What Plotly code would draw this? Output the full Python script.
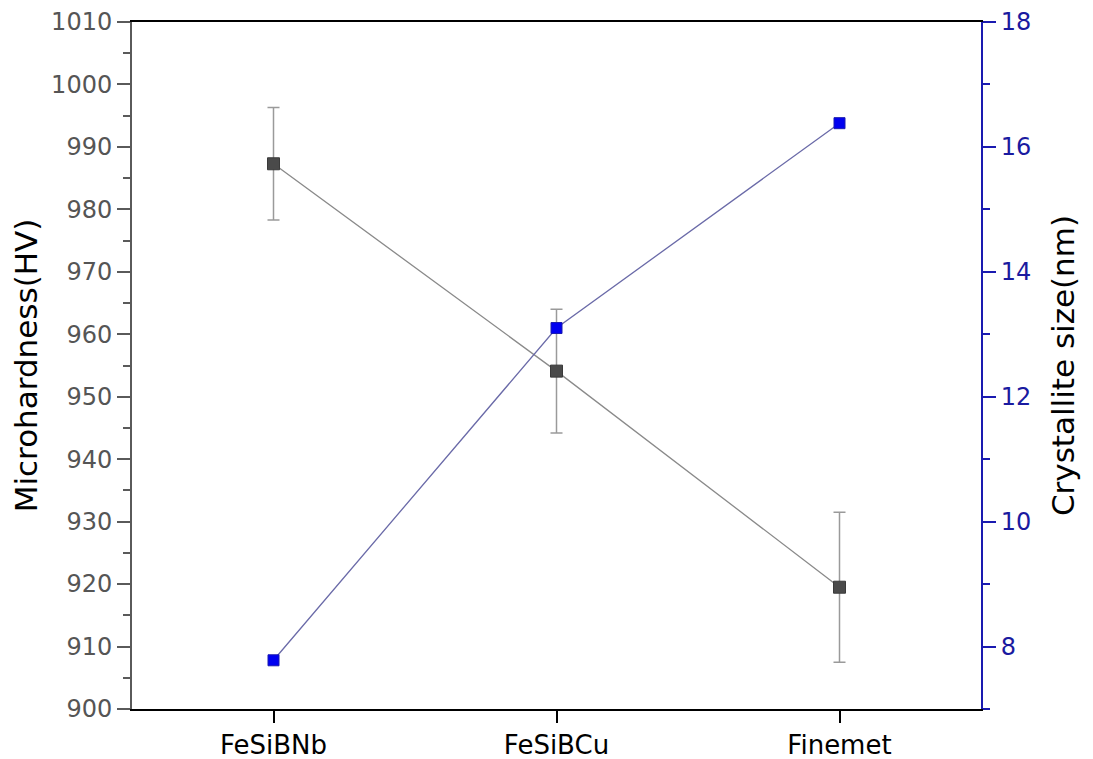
import plotly.graph_objects as go

categories = ["FeSiBNb", "FeSiBCu", "Finemet"]
microhardness = [987.3, 954.1, 919.5]
microhardness_err = [9.0, 9.9, 12.0]
crystallite = [7.78, 13.1, 16.38]

FONT = "DejaVu Sans, Liberation Sans, Arial"

fig = go.Figure()
fig.add_trace(go.Scatter(
    x=categories, y=microhardness, mode="lines+markers",
    line=dict(color="#8a8a8a", width=1.3),
    marker=dict(symbol="square", size=12, color="#4a4a4a", line=dict(color="#3a3a3a", width=1)),
    error_y=dict(type="data", array=microhardness_err, color="#9a9a9a", thickness=1.5, width=6),
    yaxis="y", showlegend=False))
fig.add_trace(go.Scatter(
    x=categories, y=crystallite, mode="lines+markers",
    line=dict(color="#6a6aa8", width=1.3),
    marker=dict(symbol="square", size=11, color="#0000f0", line=dict(color="#1a1ab0", width=1)),
    yaxis="y2", showlegend=False))

fig.update_layout(
    width=1093, height=759,
    margin=dict(l=132, r=112, t=22, b=50),
    paper_bgcolor="white", plot_bgcolor="white",
    font=dict(family=FONT, size=24),
    xaxis=dict(
        type="category", range=[-0.5, 2.5], automargin=False,
        showline=True, linecolor="black", linewidth=2, mirror=True,
        ticks="outside", ticklen=12, tickwidth=2, tickcolor="black",
        tickfont=dict(color="black", size=26, family=FONT), showgrid=False, zeroline=False),
    yaxis=dict(
        range=[900, 1010], dtick=10, tickmode="linear", tick0=900, automargin=False,
        showline=True, linecolor="#5a5a5a", linewidth=2,
        ticks="outside", ticklen=13, tickwidth=2, tickcolor="#5a5a5a",
        minor=dict(dtick=5, ticks="outside", ticklen=7, tickcolor="#5a5a5a", tickwidth=2),
        tickfont=dict(color="#555555", size=24, family=FONT),
        title=dict(text="Microhardness(HV)", font=dict(color="black", size=31, family=FONT), standoff=4),
        showgrid=False, zeroline=False),
    yaxis2=dict(
        overlaying="y", side="right", range=[7, 18], dtick=2, tickmode="linear", tick0=8,
        automargin=False,
        showline=True, linecolor="#1a1ab0", linewidth=2,
        ticks="outside", ticklen=13, tickwidth=2, tickcolor="#1a1ab0",
        minor=dict(dtick=1, ticks="outside", ticklen=7, tickcolor="#1a1ab0", tickwidth=2),
        tickfont=dict(color="#1a1aa0", size=24, family=FONT),
        title=dict(text="Crystallite size(nm)", font=dict(color="black", size=31, family=FONT), standoff=22),
        showgrid=False, zeroline=False),
)

fig.write_html("out.html")
